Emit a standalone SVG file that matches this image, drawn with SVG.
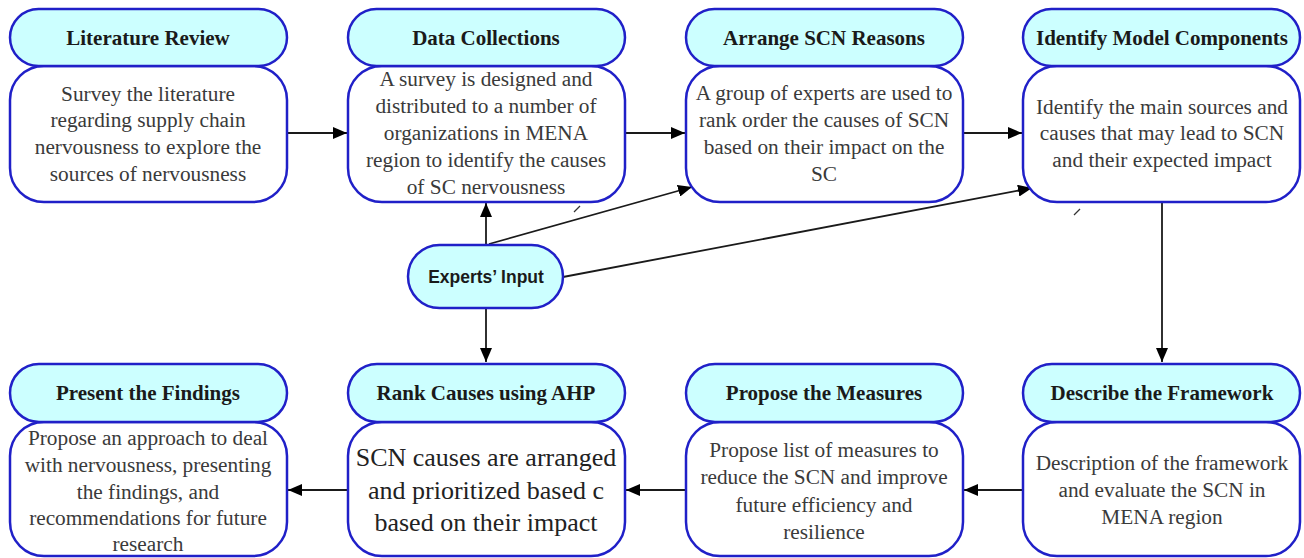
<svg xmlns="http://www.w3.org/2000/svg" width="1304" height="558" viewBox="0 0 1304 558">
  <style>
    .hdr { fill: #ccffff; stroke: #2020c8; stroke-width: 2.5; }
    .body { fill: #ffffff; stroke: #2020c8; stroke-width: 2.5; }
    .ht { font-family: "Liberation Serif", serif; font-weight: bold; font-size: 21px; fill: #1a1a1a; text-anchor: middle; dominant-baseline: central; }
    .bt { font-family: "Liberation Serif", serif; font-size: 21.3px; fill: #3a3a3a; text-anchor: middle; dominant-baseline: central; }
    .bt-lg { font-family: "Liberation Serif", serif; font-size: 26px; fill: #222; text-anchor: middle; dominant-baseline: central; }
    .et { font-family: "Liberation Sans", sans-serif; font-weight: bold; font-size: 17.5px; fill: #1a1a1a; text-anchor: middle; dominant-baseline: central; }
    .conn { stroke: #1a1a1a; stroke-width: 1.8; fill: none; marker-end: url(#arrow); }
    .tick { stroke: #333; stroke-width: 1.2; }
  </style>
  <defs>
    <marker id="arrow" viewBox="0 0 14 12" refX="14" refY="6" markerWidth="14" markerHeight="12" markerUnits="userSpaceOnUse" orient="auto">
      <path d="M0,0 L14,6 L0,12 z" fill="#000"/>
    </marker>
  </defs>

  <!-- connectors -->
  <g id="connectors">
    <line class="conn" x1="287" y1="133" x2="347" y2="133"/>
    <line class="conn" x1="625" y1="133" x2="685" y2="133"/>
    <line class="conn" x1="963" y1="133" x2="1022" y2="133"/>
    <line class="conn" x1="486" y1="245" x2="486" y2="203"/>
    <line class="conn" x1="489" y1="244" x2="692" y2="187"/>
    <line class="conn" x1="563" y1="277" x2="1032" y2="188"/>
    <line class="conn" x1="486" y1="308" x2="486" y2="362"/>
    <line class="conn" x1="1162" y1="202" x2="1162" y2="362"/>
    <line class="conn" x1="1023" y1="490" x2="964" y2="490"/>
    <line class="conn" x1="686" y1="490" x2="626" y2="490"/>
    <line class="conn" x1="348" y1="490" x2="288" y2="490"/>
    <line class="tick" x1="574" y1="212" x2="580" y2="206"/>
    <line class="tick" x1="1074" y1="215" x2="1080" y2="209"/>
  </g>

  <!-- top row -->
  <g id="literature-review">
    <rect class="body" x="10" y="66" width="277" height="136" rx="34"/>
    <rect class="hdr" x="10" y="9" width="277" height="57" rx="28.5"/>
    <text class="ht" x="148" y="38">Literature Review</text>
    <text class="bt" x="148" y="94">Survey the literature</text>
    <text class="bt" x="148" y="120">regarding supply chain</text>
    <text class="bt" x="148" y="147">nervousness to explore the</text>
    <text class="bt" x="148" y="174">sources of nervousness</text>
  </g>

  <g id="data-collections">
    <rect class="body" x="348" y="66" width="277" height="136" rx="34"/>
    <rect class="hdr" x="348" y="9" width="277" height="57" rx="28.5"/>
    <text class="ht" x="486" y="38">Data Collections</text>
    <text class="bt" x="486" y="79">A survey is designed and</text>
    <text class="bt" x="486" y="106">distributed to a number of</text>
    <text class="bt" x="486" y="133">organizations in MENA</text>
    <text class="bt" x="486" y="160">region to identify the causes</text>
    <text class="bt" x="486" y="187">of SC nervousness</text>
  </g>

  <g id="arrange-scn-reasons">
    <rect class="body" x="686" y="66" width="277" height="136" rx="34"/>
    <rect class="hdr" x="686" y="9" width="277" height="57" rx="28.5"/>
    <text class="ht" x="824" y="38">Arrange SCN Reasons</text>
    <text class="bt" x="824" y="93">A group of experts are used to</text>
    <text class="bt" x="824" y="120">rank order the causes of SCN</text>
    <text class="bt" x="824" y="147">based on their impact on the</text>
    <text class="bt" x="824" y="174">SC</text>
  </g>

  <g id="identify-model-components">
    <rect class="body" x="1023" y="66" width="277" height="136" rx="34"/>
    <rect class="hdr" x="1023" y="9" width="277" height="57" rx="28.5"/>
    <text class="ht" x="1162" y="38">Identify Model Components</text>
    <text class="bt" x="1162" y="107">Identify the main sources and</text>
    <text class="bt" x="1162" y="133">causes that may lead to SCN</text>
    <text class="bt" x="1162" y="160">and their expected impact</text>
  </g>

  <!-- experts' input -->
  <g id="experts-input">
    <rect class="hdr" x="408" y="245" width="155" height="63" rx="31.5"/>
    <text class="et" x="486" y="277">Experts’ Input</text>
  </g>

  <!-- bottom row -->
  <g id="present-the-findings">
    <rect class="body" x="10" y="422" width="277" height="134" rx="34"/>
    <rect class="hdr" x="10" y="364" width="277" height="58" rx="29"/>
    <text class="ht" x="148" y="393">Present the Findings</text>
    <text class="bt" x="148" y="438">Propose an approach to deal</text>
    <text class="bt" x="148" y="465">with nervousness, presenting</text>
    <text class="bt" x="148" y="492">the findings, and</text>
    <text class="bt" x="148" y="518">recommendations for future</text>
    <text class="bt" x="148" y="544">research</text>
  </g>

  <g id="rank-causes-ahp">
    <rect class="body" x="348" y="422" width="277" height="134" rx="34"/>
    <rect class="hdr" x="348" y="364" width="277" height="58" rx="29"/>
    <text class="ht" x="486" y="393">Rank Causes using AHP</text>
    <text class="bt-lg" x="486" y="457">SCN causes are arranged</text>
    <text class="bt-lg" x="486" y="490">and prioritized based c</text>
    <text class="bt-lg" x="486" y="522">based on their impact</text>
  </g>

  <g id="propose-the-measures">
    <rect class="body" x="686" y="422" width="277" height="134" rx="34"/>
    <rect class="hdr" x="686" y="364" width="277" height="58" rx="29"/>
    <text class="ht" x="824" y="393">Propose the Measures</text>
    <text class="bt" x="824" y="450">Propose list of measures  to</text>
    <text class="bt" x="824" y="477">reduce the SCN and improve</text>
    <text class="bt" x="824" y="505">future efficiency and</text>
    <text class="bt" x="824" y="532">resilience</text>
  </g>

  <g id="describe-the-framework">
    <rect class="body" x="1023" y="422" width="277" height="134" rx="34"/>
    <rect class="hdr" x="1023" y="364" width="277" height="58" rx="29"/>
    <text class="ht" x="1162" y="393">Describe the Framework</text>
    <text class="bt" x="1162" y="463">Description of the framework</text>
    <text class="bt" x="1162" y="490">and evaluate the SCN in</text>
    <text class="bt" x="1162" y="517">MENA region</text>
  </g>
</svg>
